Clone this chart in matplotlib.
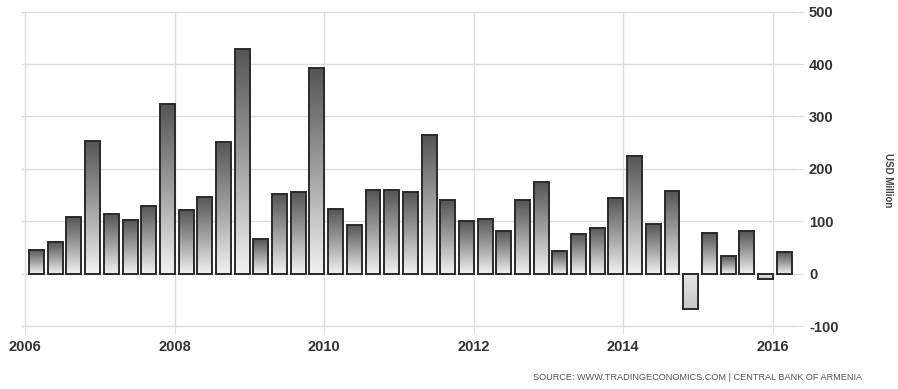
import numpy as np
import matplotlib
matplotlib.use("Agg")
import matplotlib.pyplot as plt
from matplotlib.colors import LinearSegmentedColormap

# Armenia quarterly current transfers, USD million
quarters = [f"{y}Q{q}" for y in range(2006, 2016) for q in range(1, 5)] + ["2016Q1"]
values = [46, 60, 108, 254, 113, 103, 130, 323, 121, 147, 252, 428,
          66, 152, 155, 393, 123, 93, 160, 160, 155, 264, 140, 101,
          105, 81, 140, 175, 43, 76, 88, 145, 225, 95, 157, -67,
          78, 33, 81, -11, 41]
year_ticks = [2006, 2008, 2010, 2012, 2014, 2016]
y_ticks = [-100, 0, 100, 200, 300, 400, 500]

# place each quarter's bar inside its year
xpos = [int(s[:4]) + (int(s[-1]) - 1) * 0.25 + 0.155 for s in quarters]

W, H = 898, 389
fig = plt.figure(figsize=(W / 100, H / 100), dpi=100)
ax = fig.add_axes([22 / W, 1 - 326 / H, (795 - 22) / W, (326 - 11.7) / H])

ax.set_xlim(2005.96, 2016.30)
ax.set_ylim(-100, 500)

grid_c = "#dddddd"
ax.set_xticks(year_ticks)
ax.set_yticks(y_ticks)
ax.grid(True, color=grid_c, linewidth=1.0)
ax.set_axisbelow(True)
for gl in ax.get_xgridlines() + ax.get_ygridlines():
    gl.set_clip_on(False)
for s in ax.spines.values():
    s.set_visible(False)

lab_font = dict(family=["Liberation Sans", "DejaVu Sans"], weight="bold", size=10.5)
ax.set_xticklabels([str(y) for y in year_ticks], color="#333333", **lab_font)
ax.set_yticklabels([str(v) for v in y_ticks], color="#333333", **lab_font)
ax.yaxis.tick_right()
ax.tick_params(axis="y", length=6, color=grid_c, pad=4)
ax.tick_params(axis="x", length=6, color=grid_c, pad=4)

pos_cmap = LinearSegmentedColormap.from_list("barpos", ["#f2f2f2", "#a0a0a0", "#555555"])
neg_cmap = LinearSegmentedColormap.from_list("barneg", ["#c8c8c8", "#e6e6e6"])
grad = np.linspace(0, 1, 256).reshape(-1, 1)

bars = ax.bar(xpos, values, width=0.2, facecolor="none",
              edgecolor="#2a2a2a", linewidth=1.4, zorder=3)
for b, v in zip(bars, values):
    x0, y0 = b.get_x(), b.get_y()
    w, h = b.get_width(), b.get_height()
    cmap = pos_cmap if v >= 0 else neg_cmap
    im = ax.imshow(grad, cmap=cmap, origin="lower", aspect="auto",
                   extent=[x0, x0 + w, min(y0, y0 + h), max(y0, y0 + h)],
                   zorder=2, interpolation="bilinear")
    im.set_clip_path(b)
ax.set_xlim(2005.96, 2016.30)
ax.set_ylim(-100, 500)

fig.text(888 / W, 1 - 180 / H, "USD Million", rotation=-90, ha="center", va="center",
         color="#444444", fontsize=7, weight="bold",
         family=["Liberation Sans Narrow", "Liberation Sans", "DejaVu Sans"])
fig.text(862 / W, 1 - 378 / H, "SOURCE: WWW.TRADINGECONOMICS.COM | CENTRAL BANK OF ARMENIA",
         ha="right", va="center", color="#555555", fontsize=6.6,
         family=["Liberation Sans Narrow", "Liberation Sans", "DejaVu Sans"])

fig.savefig("out.png", dpi=100, facecolor="white")
